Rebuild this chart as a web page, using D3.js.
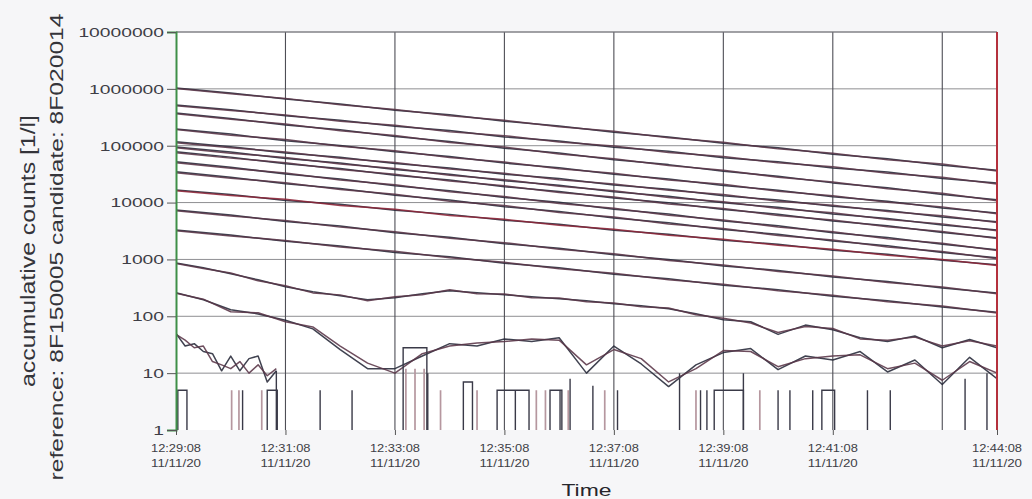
<!DOCTYPE html>
<html>
<head>
<meta charset="utf-8">
<script src="https://cdn.jsdelivr.net/npm/d3@7"></script>
<style>
  body { margin: 0; background: #f6f6f8; }
  svg { display: block; font-family: "Liberation Sans", Arial, sans-serif; }
</style>
</head>
<body>
<svg id="chart" width="1032" height="499"></svg>
<script>
// ---- sample times (seconds after 12:29:08) ----
const minuteSeconds = [0, 60, 120, 180, 240, 300, 360, 420, 480, 540, 600, 660, 720, 780, 840, 900];
const halfMinuteSeconds = [0, 30, 60, 90, 120, 150, 180, 210, 240, 270, 300, 330, 360, 390, 420, 450,
  480, 510, 540, 570, 600, 630, 660, 690, 720, 750, 780, 810, 840, 870, 900];
const tenSecondSeconds = [0, 10, 20, 30, 40, 50, 60, 70, 80, 90, 100, 110];

// ---- axis ticks ----
const yTickValues = [1, 10, 100, 1000, 10000, 100000, 1000000, 10000000];
const gridTimes = ["12:31:08", "12:33:08", "12:35:08", "12:37:08", "12:39:08", "12:41:08", "12:43:08"];
const labelTimes = ["12:29:08", "12:31:08", "12:33:08", "12:35:08", "12:37:08", "12:39:08", "12:41:08", "12:44:08"];
const dateLabel = "11/11/20";

// ---- accumulative counts per size channel (reference / candidate) ----
const ch1Ref  = [1040000, 845000, 660000, 540000, 420000, 350000, 270000, 222000, 172000, 143000, 110000, 92000, 71000, 59000, 45500, 37000];
const ch1Cand = [1010000, 820000, 680000, 525000, 435000, 338000, 280000, 215000, 180000, 138000, 115000, 88000, 74000, 56500, 47500, 36000];
const ch2Ref  = [520000, 430000, 335000, 280000, 219000, 185000, 143000, 121000, 94000, 80000, 61500, 52000, 40500, 34500, 26500, 22000];
const ch2Cand = [505000, 415000, 348000, 270000, 228000, 176000, 150000, 116000, 98500, 76000, 64500, 50000, 42500, 32800, 27800, 21200];
const ch3Ref  = [377000, 302000, 232000, 190000, 145000, 119000, 90500, 74500, 56500, 46500, 35500, 29000, 22200, 18200, 13900, 11200];
const ch3Cand = [365000, 292000, 240000, 183000, 151000, 114000, 94500, 71500, 59000, 44800, 37000, 28000, 23100, 17500, 14600, 10800];
const ch4Ref  = [197000, 160000, 122000, 101000, 78000, 64500, 49500, 41000, 31500, 26000, 20000, 16500, 12700, 10500, 8050, 6550];
const ch4Cand = [192000, 153000, 128000, 97500, 81500, 62000, 51500, 39500, 32800, 25000, 20900, 15800, 13200, 10100, 8400, 6350];
const ch5Ref  = [117000, 96000, 74500, 62500, 48500, 40500, 31500, 26400, 20400, 17100, 13200, 11100, 8650, 7250, 5600, 4610];
const ch5Cand = [113000, 92000, 77500, 60000, 50500, 39000, 32800, 25300, 21300, 16400, 13800, 10600, 9000, 6950, 5850, 4450];
const ch6Ref  = [95000, 77500, 59500, 49500, 38000, 31600, 24200, 20200, 15500, 12900, 9900, 8250, 6300, 5270, 4040, 3290];
const ch6Cand = [92000, 74000, 62000, 47500, 39600, 30300, 25300, 19300, 16200, 12300, 10300, 7900, 6600, 5030, 4220, 3180];
const ch7Ref  = [78000, 63000, 48200, 39700, 30300, 25000, 19000, 15700, 12000, 9900, 7550, 6230, 4740, 3910, 2980, 2410];
const ch7Cand = [75500, 60500, 50200, 38000, 31600, 23900, 19800, 15100, 12500, 9450, 7850, 5950, 4950, 3740, 3110, 2330];
const ch8Ref  = [52000, 41800, 31800, 26000, 19700, 16200, 12300, 10100, 7650, 6280, 4760, 3910, 2960, 2430, 1850, 1480];
const ch8Cand = [50300, 40000, 33100, 24900, 20500, 15500, 12800, 9650, 7950, 6000, 4950, 3730, 3080, 2320, 1920, 1430];
const ch9Ref  = [34700, 28000, 21400, 17600, 13400, 11100, 8480, 7000, 5330, 4400, 3360, 2760, 2110, 1740, 1320, 1070];
const ch9Cand = [33500, 26900, 22300, 16900, 14000, 10600, 8850, 6700, 5560, 4210, 3500, 2640, 2200, 1660, 1380, 1030];
const ch10Ref  = [16700, 13900, 10900, 9300, 7300, 6200, 4880, 4140, 3250, 2760, 2170, 1850, 1450, 1230, 965, 805];
const ch10Cand = [16200, 13300, 11400, 8900, 7600, 5950, 5080, 3980, 3380, 2650, 2260, 1770, 1510, 1180, 1000, 780];
const ch11Ref  = [7400, 6030, 4640, 3860, 2960, 2460, 1890, 1570, 1210, 1000, 770, 640, 492, 409, 315, 256];
const ch11Cand = [7150, 5800, 4830, 3700, 3080, 2360, 1970, 1510, 1260, 960, 800, 615, 512, 393, 328, 248];
const ch12Ref  = [3300, 2690, 2080, 1730, 1330, 1110, 855, 712, 548, 457, 352, 294, 225, 188, 145, 118];
const ch12Cand = [3180, 2590, 2160, 1660, 1390, 1070, 890, 685, 570, 440, 366, 282, 235, 180, 151, 114];
const ch13Ref  = [870, 711, 558, 438, 330, 269, 229, 195, 212, 249, 280, 260, 239, 220, 203, 187, 166, 153, 136, 111, 87, 80, 48, 70, 58, 42, 36, 45, 28, 39, 28];
const ch13Cand = [850, 690, 575, 420, 345, 258, 238, 188, 220, 240, 292, 250, 246, 212, 210, 180, 172, 147, 140, 106, 92, 76, 52, 66, 61, 40, 38, 43, 30, 37, 30];
const ch14Ref  = [260, 195, 130, 110, 85, 60, 26, 12, 12, 20, 33, 30, 40, 36, 42, 10, 30, 14.5, 5.8, 14, 23, 27, 11.5, 20, 17, 24, 10.5, 17, 6.3, 19, 8];
const ch14Cand = [255, 200, 120, 115, 80, 65, 30, 15, 10, 22, 30, 34, 36, 40, 38, 14, 26, 18, 7, 12, 25, 24, 13, 18, 20, 21, 12, 15, 7.5, 16, 10];
const ch15Ref  = [50, 30, 33, 24, 22, 11, 20, 11, 18, 20, 7, 11];
const ch15Cand = [48, 38, 28, 30, 16, 14, 12, 16, 10, 14, 9, 12];

// sparse counts in the largest channel: [start s, duration s, count]
const pulsesRef = [[2, 10, 5], [73, 0, 5], [100, 11, 5], [110, 0, 11], [158, 0, 5], [193, 0, 5], [249, 26, 28],
  [276, 0, 10], [315, 10, 7], [352, 35, 5], [372, 0, 5], [410, 13, 5], [421, 0, 5], [432, 0, 8], [457, 0, 6],
  [484, 0, 5], [552, 0, 10], [575, 0, 5], [582, 0, 5], [590, 32, 5], [622, 0, 10], [660, 0, 5], [673, 0, 5],
  [698, 0, 5], [708, 14, 5], [758, 0, 5], [783, 0, 5], [865, 0, 8], [889, 0, 10]];
const pulsesCand = [[61, 0, 5], [69, 0, 5], [94, 0, 5], [252, 0, 12], [262, 0, 12], [272, 0, 12], [290, 0, 5],
  [330, 0, 5], [395, 0, 5], [405, 0, 5], [430, 0, 5], [470, 0, 5], [570, 0, 5], [640, 0, 5]];

// ---- layout ----
const svg = d3.select("#chart");
const plotLeft = 176, plotRight = 997, plotTop = 32, plotBottom = 430;
const refColor = "#262838", candColor = "#5a3648", redColor = "#8e2438";

const T0 = new Date(2020, 10, 11, 12, 29, 8);
const at = s => new Date(T0.getTime() + s * 1000);
const parseClock = s => { const [h, m, sec] = s.split(":").map(Number); return new Date(2020, 10, 11, h, m, sec); };

const x = d3.scaleTime().domain([at(0), at(900)]).range([plotLeft, plotRight]);
const y = d3.scaleLog().domain([1, 1e7]).range([plotBottom, plotTop]);

svg.append("rect").attr("x", plotLeft).attr("y", plotTop)
  .attr("width", plotRight - plotLeft).attr("height", plotBottom - plotTop).attr("fill", "#ffffff");

// grid
svg.append("g").selectAll("line").data(yTickValues.slice(1)).join("line")
  .attr("x1", plotLeft).attr("x2", plotRight).attr("y1", d => y(d)).attr("y2", d => y(d))
  .attr("stroke", "#8e8e92").attr("stroke-width", 1);
svg.append("g").selectAll("line").data(gridTimes).join("line")
  .attr("x1", d => x(parseClock(d))).attr("x2", d => x(parseClock(d)))
  .attr("y1", plotTop).attr("y2", plotBottom)
  .attr("stroke", "#4e4e56").attr("stroke-width", 1.1);

// series
svg.append("clipPath").attr("id", "plot").append("rect")
  .attr("x", plotLeft).attr("y", plotTop - 2).attr("width", plotRight - plotLeft).attr("height", plotBottom - plotTop + 2);
const plot = svg.append("g").attr("clip-path", "url(#plot)");

const line = d3.line().x(d => x(at(d[0]))).y(d => y(Math.max(1, d[1])));
const series = [
  [minuteSeconds, ch1Ref, refColor], [minuteSeconds, ch1Cand, candColor],
  [minuteSeconds, ch2Ref, refColor], [minuteSeconds, ch2Cand, candColor],
  [minuteSeconds, ch3Ref, refColor], [minuteSeconds, ch3Cand, candColor],
  [minuteSeconds, ch4Ref, refColor], [minuteSeconds, ch4Cand, candColor],
  [minuteSeconds, ch5Ref, refColor], [minuteSeconds, ch5Cand, candColor],
  [minuteSeconds, ch6Ref, refColor], [minuteSeconds, ch6Cand, candColor],
  [minuteSeconds, ch7Ref, refColor], [minuteSeconds, ch7Cand, candColor],
  [minuteSeconds, ch8Ref, refColor], [minuteSeconds, ch8Cand, candColor],
  [minuteSeconds, ch9Ref, refColor], [minuteSeconds, ch9Cand, candColor],
  [minuteSeconds, ch10Ref, refColor], [minuteSeconds, ch10Cand, redColor],
  [minuteSeconds, ch11Ref, refColor], [minuteSeconds, ch11Cand, candColor],
  [minuteSeconds, ch12Ref, refColor], [minuteSeconds, ch12Cand, candColor],
  [halfMinuteSeconds, ch13Ref, refColor], [halfMinuteSeconds, ch13Cand, candColor],
  [halfMinuteSeconds, ch14Ref, refColor], [halfMinuteSeconds, ch14Cand, candColor],
  [tenSecondSeconds, ch15Ref, refColor], [tenSecondSeconds, ch15Cand, candColor]
];
plot.selectAll("path.series").data(series).join("path").attr("class", "series")
  .attr("d", ([ts, vs]) => line(ts.map((t, i) => [t, vs[i]])))
  .attr("fill", "none").attr("stroke", d => d[2]).attr("stroke-width", 1.5)
  .attr("stroke-linejoin", "round").attr("opacity", 0.88);

const pulsePath = ([t, w, v]) => line([[t, 1], [t, v], [t + w, v], [t + w, 1]]);
plot.selectAll("path.pcand").data(pulsesCand).join("path").attr("class", "pcand")
  .attr("d", pulsePath).attr("fill", "none").attr("stroke", "#b6979f").attr("stroke-width", 1.7);
plot.selectAll("path.pref").data(pulsesRef).join("path").attr("class", "pref")
  .attr("d", pulsePath).attr("fill", "none").attr("stroke", "#3a3a48").attr("stroke-width", 1.4);

// frame: top edge and red right edge
svg.append("line").attr("x1", plotLeft).attr("x2", plotRight).attr("y1", plotTop).attr("y2", plotTop)
  .attr("stroke", "#7c7c82").attr("stroke-width", 1.2);
svg.append("line").attr("x1", plotRight).attr("x2", plotRight).attr("y1", plotTop).attr("y2", plotBottom)
  .attr("stroke", "#b4303c").attr("stroke-width", 2);

// y axis (green spine)
const yAxis = svg.append("g").attr("transform", `translate(${plotLeft},0)`)
  .call(d3.axisLeft(y).tickValues(yTickValues).tickFormat(d3.format("d")).tickSize(9).tickPadding(3));
yAxis.select(".domain").attr("stroke", "#3f8f48").attr("stroke-width", 2);
yAxis.selectAll(".tick line").attr("stroke", "#555");
yAxis.selectAll(".tick text")
  .attr("font-size", 13.5).attr("fill", "#3e3e46")
  .attr("font-family", "'Liberation Sans', Arial, sans-serif")
  .attr("textLength", d => String(d).length * 10.7).attr("lengthAdjust", "spacingAndGlyphs");

// x axis
const xAxis = svg.append("g").attr("transform", `translate(0,${plotBottom})`)
  .call(d3.axisBottom(x).tickValues(labelTimes.map(parseClock)).tickSize(5).tickFormat(""));
xAxis.select(".domain").remove();
xAxis.selectAll(".tick line").attr("stroke", "#555");
const xl = svg.append("g").attr("fill", "#3e3e46").attr("font-size", 10.5).attr("text-anchor", "middle");
xl.selectAll("text.t").data(labelTimes).join("text").attr("class", "t")
  .attr("x", d => x(parseClock(d))).attr("y", 452).text(d => d)
  .attr("textLength", 50).attr("lengthAdjust", "spacingAndGlyphs");
xl.selectAll("text.d").data(labelTimes).join("text").attr("class", "d")
  .attr("x", d => x(parseClock(d))).attr("y", 467).text(dateLabel)
  .attr("textLength", 50).attr("lengthAdjust", "spacingAndGlyphs");

// titles
svg.append("text").attr("x", (plotLeft + plotRight) / 2).attr("y", 496).attr("text-anchor", "middle")
  .attr("font-size", 17).attr("fill", "#26262c").text("Time")
  .attr("textLength", 50).attr("lengthAdjust", "spacingAndGlyphs");
svg.append("text").attr("transform", "translate(35,251) rotate(-90)").attr("text-anchor", "middle")
  .attr("font-size", 20).attr("fill", "#34343a").text("accumulative counts [1/l]")
  .attr("textLength", 272).attr("lengthAdjust", "spacingAndGlyphs");
svg.append("text").attr("transform", "translate(63,247) rotate(-90)").attr("text-anchor", "middle")
  .attr("font-size", 19).attr("fill", "#34343a").text("reference: 8F150005    candidate: 8F020014")
  .attr("textLength", 467).attr("lengthAdjust", "spacingAndGlyphs");
</script>
</body>
</html>
